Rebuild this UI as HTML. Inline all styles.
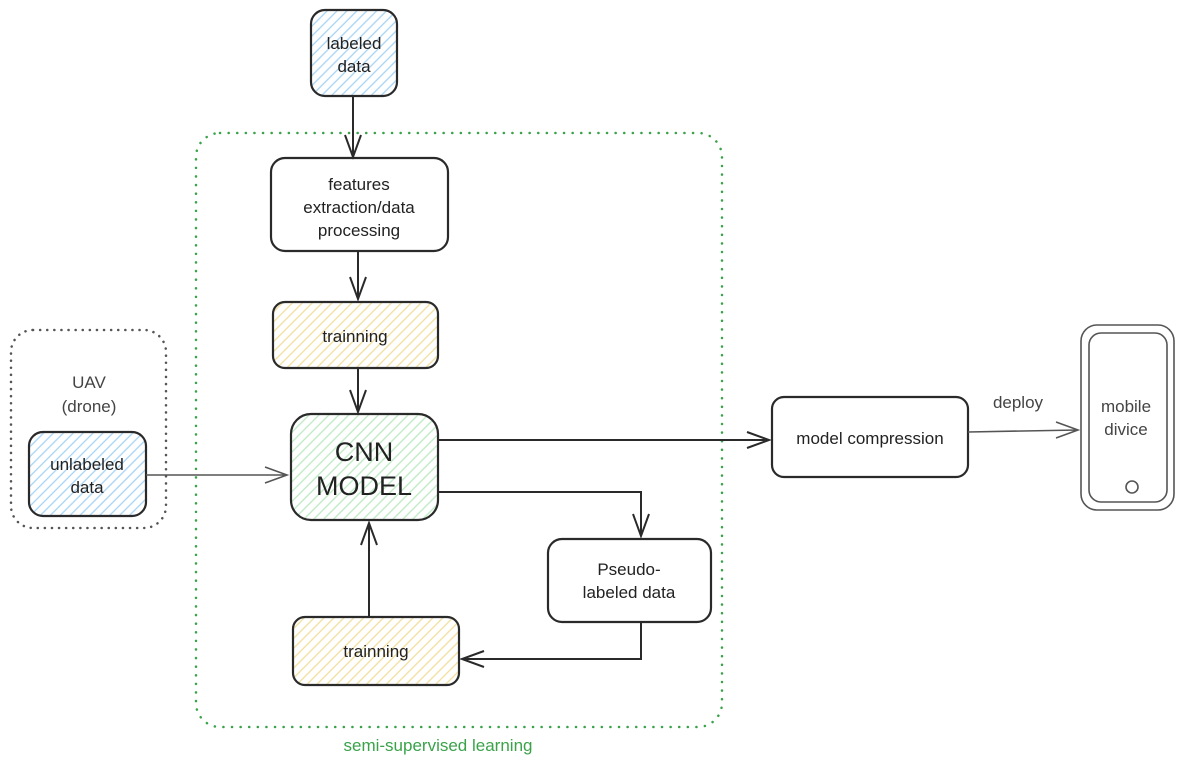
<!DOCTYPE html>
<html><head><meta charset="utf-8"><style>
html,body{margin:0;padding:0;background:#fff;}
svg{display:block;font-family:"Liberation Sans",Arial,sans-serif;}
</style></head><body>
<svg width="1184" height="764" viewBox="0 0 1184 764" xmlns="http://www.w3.org/2000/svg">
<defs>
<pattern id="hb" width="7" height="7" patternUnits="userSpaceOnUse" patternTransform="rotate(45)"><line x1="1" y1="0" x2="1" y2="7" stroke="#a6d3f5" stroke-width="1.3"/></pattern>
<pattern id="hy" width="7" height="7" patternUnits="userSpaceOnUse" patternTransform="rotate(45)"><line x1="1" y1="0" x2="1" y2="7" stroke="#f2de9c" stroke-width="1.3"/></pattern>
<pattern id="hg" width="7" height="7" patternUnits="userSpaceOnUse" patternTransform="rotate(45)"><line x1="1" y1="0" x2="1" y2="7" stroke="#bce9c2" stroke-width="1.3"/></pattern>
</defs>
<g fill="none">
<rect x="196" y="133" width="526" height="594" rx="24" stroke="#3aa34a" stroke-width="2.5" stroke-dasharray="0.1,8.5" stroke-linecap="round"/>
<rect x="11" y="330" width="155" height="198" rx="22" stroke="#555" stroke-width="2.5" stroke-dasharray="0.1,7" stroke-linecap="round"/>
</g>
<g stroke="#2a2a2a" stroke-width="2.2">
<rect x="311" y="10" width="86" height="86" rx="14" fill="url(#hb)"/>
<rect x="271" y="158" width="177" height="93" rx="14" fill="#fff"/>
<rect x="273" y="302" width="165" height="66" rx="12" fill="url(#hy)"/>
<rect x="291" y="414" width="147" height="106" rx="20" fill="url(#hg)"/>
<rect x="29" y="432" width="117" height="84" rx="14" fill="url(#hb)"/>
<rect x="772" y="397" width="196" height="80" rx="12" fill="#fff"/>
<rect x="548" y="539" width="163" height="83" rx="14" fill="#fff"/>
<rect x="293" y="617" width="166" height="68" rx="12" fill="url(#hy)"/>
</g>
<g stroke="#555" stroke-width="1.6" fill="none">
<rect x="1081" y="325" width="93" height="185" rx="16"/>
<rect x="1089" y="333" width="78" height="169" rx="12"/>
<circle cx="1132" cy="487" r="6"/>
</g>
<g stroke="#2a2a2a" stroke-width="2" fill="none">
<path d="M353 96V157M345 135L353 157L361 135"/>
<path d="M358 251V299M350 277L358 299L366 277"/>
<path d="M358 368V412M350 390L358 412L366 390"/>
<path d="M438 440H769M747 432L769 440L747 448"/>
<path d="M438 492H641V536M633 514L641 536L649 514"/>
<path d="M641 622V659H462M484 651L462 659L484 667"/>
<path d="M369 617V523M361 545L369 523L377 545"/>
</g>
<g stroke="#555" stroke-width="1.6" fill="none">
<path d="M146 475H287M265 467L287 475L265 483"/>
<path d="M968 432L1078 430M1056 422L1078 430L1056 438"/>
</g>
<g fill="#222" font-size="17" text-anchor="middle">
<text x="354" y="49">labeled</text><text x="354" y="72">data</text>
<text x="359" y="190">features</text><text x="359" y="213">extraction/data</text><text x="359" y="236">processing</text>
<text x="355" y="342">trainning</text>
<text x="364" y="461" font-size="27">CNN</text><text x="364" y="495" font-size="27">MODEL</text>
<text x="87" y="470">unlabeled</text><text x="87" y="493">data</text>
<text x="870" y="444">model compression</text>
<text x="629" y="575">Pseudo-</text><text x="629" y="598">labeled data</text>
<text x="376" y="657">trainning</text>
</g>
<g fill="#444" font-size="17" text-anchor="middle">
<text x="89" y="388">UAV</text><text x="89" y="412">(drone)</text>
<text x="1018" y="408">deploy</text>
<text x="1126" y="412">mobile</text><text x="1126" y="435">divice</text>
</g>
<text x="438" y="751" fill="#3aa34a" font-size="17" text-anchor="middle">semi-supervised learning</text>
</svg>
</body></html>
